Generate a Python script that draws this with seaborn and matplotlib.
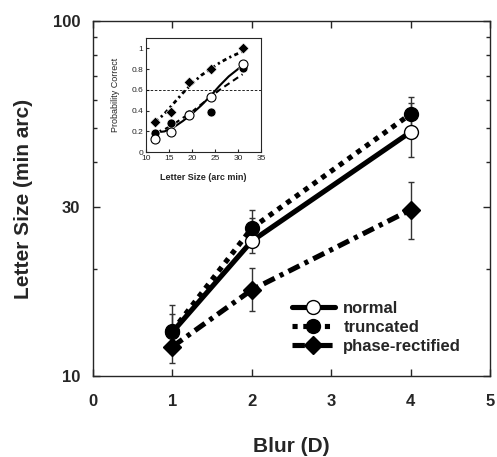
import numpy as np
import pandas as pd
import matplotlib
matplotlib.use("Agg")
import matplotlib.pyplot as plt
import seaborn as sns
from matplotlib.ticker import FixedLocator, NullFormatter, FixedFormatter

# main panel: threshold letter size vs blur
blur = [1, 2, 4]
normal_size = [13.3, 24.0, 48.7]
normal_lo = [11.8, 22.2, 41.4]
normal_hi = [15.0, 27.9, 58.7]
trunc_size = [13.4, 26.1, 54.7]
trunc_lo = [11.6, 23.2, 49.0]
trunc_hi = [15.9, 29.4, 61.1]
phase_size = [12.1, 17.5, 29.4]
phase_lo = [10.9, 15.3, 24.3]
phase_hi = [13.4, 20.1, 35.2]

# inset: psychometric data + fitted curves
pc_x = [12, 15.5, 19.4, 24.2, 31]
pc_normal = [0.13, 0.19, 0.36, 0.53, 0.85]
pc_trunc = [0.18, 0.28, 0.37, 0.39, 0.81]
pc_phase = [0.29, 0.39, 0.68, 0.80, 1.0]
fit_x = [12, 14, 16, 18, 20, 22, 24, 26, 28, 30, 31]
fit_normal = [0.19, 0.20, 0.24, 0.30, 0.37, 0.45, 0.54, 0.64, 0.73, 0.80, 0.84]
fit_trunc = [0.19, 0.22, 0.27, 0.33, 0.39, 0.46, 0.53, 0.60, 0.66, 0.72, 0.75]
fit_phase = [0.29, 0.37, 0.47, 0.57, 0.66, 0.74, 0.80, 0.86, 0.91, 0.95, 0.97]

sns.set_style("ticks")
plt.rcParams['font.family'] = ['Liberation Sans', 'DejaVu Sans']

fig = plt.figure(figsize=(4.97, 4.57), dpi=100)
ax = fig.add_axes([0.187, 0.177, 0.799, 0.777])

series = [
    ("normal", normal_size, normal_lo, normal_hi, "-", "o", "white"),
    ("truncated", trunc_size, trunc_lo, trunc_hi, (0, (1, 1.1)), "o", "black"),
    ("phase-rectified", phase_size, phase_lo, phase_hi, (0, (2.4, 1.1, 0.8, 1.1)), "D", "black"),
]
for name, val, lo, hi, ls, mk, fc in series:
    yerr = [np.array(val) - np.array(lo), np.array(hi) - np.array(val)]
    ax.errorbar(blur, val, yerr=yerr, fmt="none", ecolor="#333333",
                elinewidth=1, capsize=2.5, capthick=1, zorder=1)
for name, val, lo, hi, ls, mk, fc in series:
    ms = 10 if mk == "o" else 9
    sns.lineplot(x=blur, y=val, ax=ax, color="black", lw=3.7, linestyle=ls,
                 marker=mk, markersize=ms, markerfacecolor=fc,
                 markeredgecolor="black", markeredgewidth=1, label=name, zorder=3)

ax.set_yscale("log")
ax.set_xlim(0, 5)
ax.set_ylim(10, 100)
ax.set_xticks([0, 1, 2, 3, 4, 5])
ax.yaxis.set_major_locator(FixedLocator([10, 30, 100]))
ax.yaxis.set_major_formatter(FixedFormatter(["10", "30", "100"]))
ax.yaxis.set_minor_locator(FixedLocator([20, 40, 50, 60, 70, 80, 90]))
ax.yaxis.set_minor_formatter(NullFormatter())
ax.tick_params(which="both", direction="in", top=True, right=True, width=1)
ax.tick_params(which="major", length=5, labelsize=12)
ax.tick_params(axis="x", which="major", pad=13)
ax.tick_params(axis="y", which="major", pad=9)
ax.tick_params(which="minor", length=3)
for lab in ax.get_xticklabels() + ax.get_yticklabels():
    lab.set_fontweight("bold")
for sp in ax.spines.values():
    sp.set_linewidth(1)
ax.set_xlabel("Blur (D)", fontsize=15, fontweight="bold", labelpad=20)
ax.set_ylabel("Letter Size (min arc)", fontsize=15, fontweight="bold", labelpad=14)

leg = ax.legend(loc="lower right", bbox_to_anchor=(0.965, 0.02), frameon=False,
                handlelength=2.6, handletextpad=0.5, labelspacing=0.25,
                prop={"weight": "bold", "size": 12})

# inset
ins = fig.add_axes([0.294, 0.667, 0.231, 0.250])
sns.lineplot(x=fit_x, y=fit_normal, ax=ins, color="black", lw=1.5, linestyle="-")
sns.lineplot(x=fit_x, y=fit_trunc, ax=ins, color="black", lw=1.5, linestyle=(0, (3, 2)))
sns.lineplot(x=fit_x, y=fit_phase, ax=ins, color="black", lw=2, linestyle=(0, (1.5, 1.2, 0.8, 1.2)))
ins.axhline(0.6, color="black", lw=0.6, linestyle=(0, (3, 2)))
sns.scatterplot(x=pc_x, y=pc_phase, ax=ins, marker="D", s=30, color="black", zorder=4)
sns.scatterplot(x=pc_x, y=pc_trunc, ax=ins, marker="o", s=42, color="black", zorder=4)
sns.scatterplot(x=pc_x, y=pc_normal, ax=ins, marker="o", s=42, facecolor="white",
                edgecolor="black", linewidth=0.8, zorder=5)
ins.set_xlim(10, 35)
ins.set_ylim(0, 1.1)
ins.set_xticks([10, 15, 20, 25, 30, 35])
ins.set_yticks([0, 0.2, 0.4, 0.6, 0.8, 1.0])
ins.set_yticklabels(["0", "0.2", "0.4", "0.6", "0.8", "1"])
ins.tick_params(direction="in", length=2.5, labelsize=6, pad=2, width=0.8)
ins.set_xlabel("Letter Size (arc min)", fontsize=6.5, fontweight="bold", labelpad=8)
ins.set_ylabel("Probability Correct", fontsize=6.5, labelpad=8)
for sp in ins.spines.values():
    sp.set_linewidth(0.8)

fig.savefig("out.png", dpi=100)
